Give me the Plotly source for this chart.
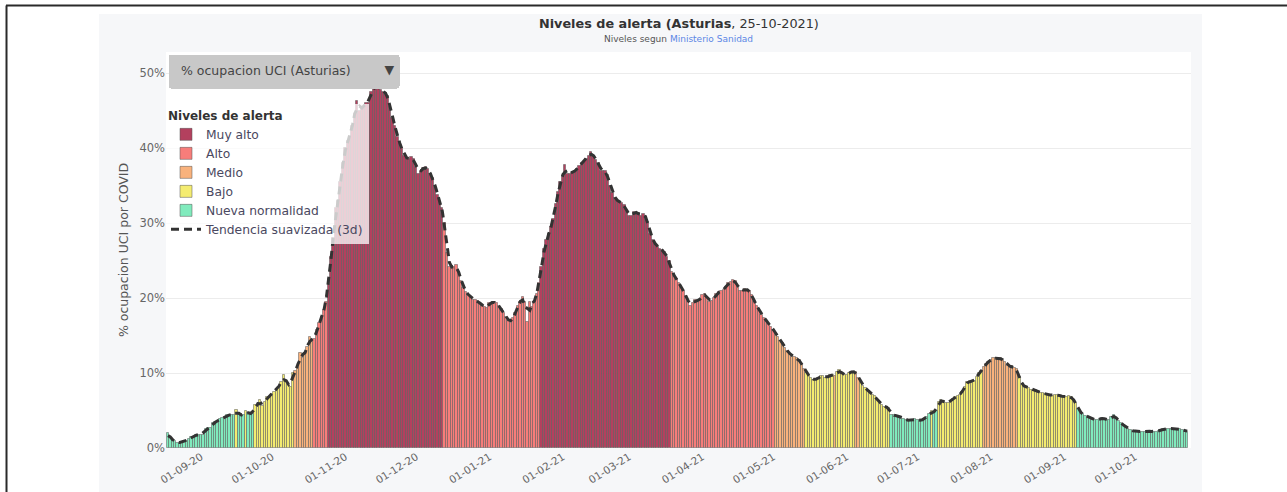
import pandas as pd
import plotly.graph_objects as go

# % ocupacion UCI por COVID, Asturias, valores diarios
ocup_ago20 = [2.0, 1.3, 1.1, 0.9, 0.7, 0.7, 0.8, 0.9, 1.0, 1.2, 1.5, 1.5, 1.8, 1.8]
ocup_sep20 = [1.8, 1.8, 2.6, 2.7, 2.7, 3.3, 3.5, 3.5, 3.9, 4.0, 4.0, 4.4, 4.4, 4.4, 4.4,
              5.1, 4.4, 4.4, 4.4, 4.9, 4.7, 4.5, 4.6, 5.7, 5.7, 6.4, 5.6, 6.2, 6.8, 6.8]
ocup_oct20 = [7.2, 7.5, 7.8, 8.2, 8.8, 9.7, 8.8, 8.4, 8.2, 10.0, 10.3, 10.7, 12.7, 12.0, 12.7,
              13.5, 14.8, 14.3, 14.5, 15.7, 16.7, 17.5, 18.4, 19.5, 22.5, 25.5, 28.0, 32.0, 33.0,
              35.5, 38.0]
ocup_nov20 = [40.0, 41.0, 41.5, 43.0, 44.5, 46.3, 45.0, 45.5, 45.5, 46.0, 46.0, 47.5, 48.0, 48.2,
              48.3, 47.8, 47.5, 47.4, 47.0, 45.5, 44.0, 43.0, 41.5, 40.5, 40.0, 39.0, 38.5, 38.5,
              38.8, 38.5]
ocup_dic20 = [37.5, 36.6, 37.0, 37.3, 37.5, 37.2, 36.5, 36.0, 35.0, 33.8, 32.8, 32.0, 30.0, 26.0,
              24.2, 24.0, 24.2, 24.4, 23.5, 22.3, 21.3, 20.8, 20.4, 20.2, 19.8, 19.7, 19.6, 19.3,
              19.0, 18.8, 18.7]
ocup_ene21 = [19.3, 19.4, 19.5, 19.3, 18.9, 18.5, 18.0, 17.5, 17.0, 16.7, 17.3, 18.0, 19.0, 19.5,
              20.2, 19.5, 16.8, 19.5, 18.8, 19.5, 20.6, 22.0, 24.2, 26.5, 27.7, 28.5, 29.5, 30.5,
              32.5, 34.2, 35.5]
ocup_feb21 = [36.2, 37.7, 36.6, 36.6, 36.7, 36.9, 37.2, 37.6, 38.0, 38.2, 38.6, 39.0, 39.5, 39.0,
              38.4, 38.0, 37.0, 36.9, 36.9, 36.4, 35.0, 34.0, 33.3, 33.0, 32.8, 32.7, 32.4, 31.5]
ocup_mar21 = [31.0, 31.0, 31.5, 31.4, 31.3, 31.0, 31.2, 31.0, 30.2, 28.5, 27.7, 27.3, 26.8, 26.5,
              26.4, 26.2, 25.5, 25.0, 23.5, 23.0, 22.6, 22.0, 21.5, 21.0, 20.3, 19.5, 19.0, 19.3,
              19.8, 19.5, 19.7]
ocup_abr21 = [20.4, 20.6, 20.2, 19.5, 19.6, 20.0, 20.6, 20.8, 20.9, 21.1, 21.5, 22.0, 22.2, 22.4,
              22.3, 21.5, 21.0, 21.0, 21.2, 21.1, 21.0, 20.4, 19.5, 18.9, 18.4, 17.8, 17.3, 17.1,
              16.6, 16.2]
ocup_may21 = [15.8, 15.3, 14.8, 14.3, 14.0, 13.3, 12.9, 12.6, 12.2, 12.2, 12.0, 11.7, 11.2, 10.6,
              10.0, 9.7, 9.3, 9.1, 9.1, 9.3, 9.6, 9.6, 9.3, 9.5, 9.7, 9.7, 9.6, 10.1, 10.4, 10.0, 9.7]
ocup_jun21 = [9.7, 10.0, 10.2, 10.2, 10.1, 9.4, 8.8, 8.3, 8.0, 7.6, 7.3, 7.1, 6.9, 6.4, 6.1, 5.7,
              5.5, 5.5, 5.3, 4.4, 4.4, 4.3, 4.2, 4.2, 3.9, 3.7, 3.7, 3.7, 3.8, 3.9]
ocup_jul21 = [3.7, 3.7, 3.7, 3.9, 4.2, 4.5, 4.9, 4.7, 5.0, 6.2, 6.4, 6.2, 6.0, 6.0, 6.3, 6.6, 6.8,
              7.0, 7.1, 7.5, 8.2, 8.8, 9.0, 8.7, 9.0, 9.5, 10.0, 10.3, 10.8, 11.2, 11.5]
ocup_ago21 = [11.8, 12.0, 12.0, 11.9, 12.0, 11.8, 11.5, 11.0, 10.8, 10.9, 10.7, 10.5, 9.5, 8.4,
              8.3, 8.1, 8.0, 7.8, 7.7, 7.7, 7.5, 7.4, 7.3, 7.2, 7.1, 7.1, 7.0, 7.1, 7.1, 7.0, 6.9]
ocup_sep21 = [6.8, 6.8, 6.9, 6.8, 6.4, 6.0, 5.2, 4.6, 4.5, 4.3, 4.2, 4.0, 3.8, 3.7, 3.8, 3.9, 4.0,
              3.9, 3.8, 3.7, 4.2, 4.4, 4.0, 3.6, 3.3, 3.1, 2.8, 2.6, 2.4, 2.3]
ocup_oct21 = [2.2, 2.2, 2.2, 2.2, 2.2, 2.3, 2.2, 2.2, 2.2, 2.2, 2.3, 2.4, 2.5, 2.6, 2.6, 2.6, 2.6,
              2.6, 2.6, 2.5, 2.4, 2.3, 2.2]

# Nivel de alerta: fecha desde la que aplica cada tramo
tramo_inicio = ["2020-08-18", "2020-09-16", "2020-09-17", "2020-09-20", "2020-09-21",
                "2020-09-24", "2020-10-11", "2020-10-19", "2020-10-25", "2020-12-13",
                "2021-01-23", "2021-03-19", "2021-05-02", "2021-05-15", "2021-05-27",
                "2021-05-28", "2021-06-05", "2021-06-07", "2021-06-20", "2021-07-07",
                "2021-07-08", "2021-07-10", "2021-07-29", "2021-08-13", "2021-09-07"]
tramo_nivel = ["Nueva normalidad", "Bajo", "Nueva normalidad", "Bajo", "Nueva normalidad",
               "Bajo", "Medio", "Alto", "Muy alto", "Alto",
               "Muy alto", "Alto", "Medio", "Bajo", "Medio",
               "Bajo", "Medio", "Bajo", "Nueva normalidad", "Bajo",
               "Nueva normalidad", "Bajo", "Medio", "Bajo", "Nueva normalidad"]

niveles = ["Muy alto", "Alto", "Medio", "Bajo", "Nueva normalidad"]
colores = {
    "Muy alto": "#b3405e",
    "Alto": "#f77d7a",
    "Medio": "#f9b27c",
    "Bajo": "#f4ec70",
    "Nueva normalidad": "#80ebbd",
}

valores = (ocup_ago20 + ocup_sep20 + ocup_oct20 + ocup_nov20 + ocup_dic20 + ocup_ene21
           + ocup_feb21 + ocup_mar21 + ocup_abr21 + ocup_may21 + ocup_jun21 + ocup_jul21
           + ocup_ago21 + ocup_sep21 + ocup_oct21)
fechas = pd.date_range("2020-08-18", periods=len(valores), freq="D")
df = pd.DataFrame({"fecha": fechas, "ocup": valores})

inicio = pd.to_datetime(tramo_inicio)
idx = inicio.searchsorted(df["fecha"], side="right") - 1
df["nivel"] = [tramo_nivel[i] for i in idx]
df["suave"] = df["ocup"].rolling(3, center=True, min_periods=1).mean()

fig = go.Figure()

for nivel in niveles:
    d = df[df["nivel"] == nivel]
    fig.add_trace(go.Bar(
        x=d["fecha"], y=d["ocup"], name=nivel,
        marker=dict(color=colores[nivel], line=dict(color="rgba(85,85,85,0.5)", width=1)),
        hovertemplate="%{x|%d-%m-%y}: %{y:.1f}%<extra>" + nivel + "</extra>",
    ))

fig.add_trace(go.Scatter(
    x=df["fecha"], y=df["suave"], mode="lines", name="Tendencia suavizada (3d)",
    line=dict(color="#333333", width=3, dash="8px,5px"),
    hovertemplate="%{y:.1f}%<extra></extra>",
))

# fondo gris del panel, area blanca del grafico y marco negro de la captura
fig.add_shape(type="rect", xref="paper", yref="paper", x0=-0.0654, x1=1.0107, y0=-0.12, y1=1.096,
              fillcolor="#f6f7f9", line_width=0, layer="below")
fig.add_shape(type="rect", xref="paper", yref="paper", x0=0, x1=1, y0=0, y1=1,
              fillcolor="white", line_width=0, layer="below")
fig.add_shape(type="line", xref="paper", yref="paper", x0=-0.1561, x1=1.1, y0=1.1174, y1=1.1174,
              line=dict(color="#2a2a2a", width=2))
fig.add_shape(type="line", xref="paper", yref="paper", x0=-0.1556, x1=-0.1556, y0=-0.12, y1=1.1174,
              line=dict(color="#2a2a2a", width=2))

fig.add_annotation(
    xref="paper", yref="paper", x=0.5, y=1.071, yanchor="middle", showarrow=False,
    text="<b>Niveles de alerta (Asturias</b>, 25-10-2021)",
    font=dict(size=12.8, color="#333333"),
)
fig.add_annotation(
    xref="paper", yref="paper", x=0.5, y=1.0328, yanchor="middle", showarrow=False,
    text="Niveles segun <span style='color:#5b86e5'>Ministerio Sanidad</span>",
    font=dict(size=9, color="#555555"),
)

fig.update_layout(
    width=1287, height=492,
    margin=dict(l=166, r=96, t=52, b=44, autoexpand=False),
    paper_bgcolor="white", plot_bgcolor="white",
    font=dict(family="DejaVu Sans, Noto Sans, sans-serif", color="#555555", size=12),
    barmode="overlay", bargap=0,
    showlegend=True,
    legend=dict(
        x=0.0, y=0.868, xanchor="left", yanchor="top",
        bgcolor="rgba(255,255,255,0.75)",
        title=dict(text="<b>Niveles de alerta</b>", font=dict(size=12, color="#333333")),
        font=dict(size=12.3, color="#4a4860"),
        tracegroupgap=0, itemwidth=30,
    ),
    xaxis=dict(
        type="date", automargin=False,
        range=["2020-08-17 04:00", "2021-10-24 14:00"],
        tick0="2020-09-01", dtick="M1", tickformat="%d-%m-%y",
        tickangle=-32, tickfont=dict(size=10.5, color="#666666"),
        showgrid=False, zeroline=False, ticks="",
    ),
    yaxis=dict(
        automargin=False,
        range=[0, 52.8], dtick=10, ticksuffix="%",
        tickfont=dict(size=11.5, color="#666666"),
        gridcolor="#ececec", zeroline=False,
        title=dict(text="% ocupacion UCI por COVID", font=dict(size=12.5, color="#555555"), standoff=8),
    ),
    updatemenus=[dict(
        type="dropdown", direction="down", showactive=True,
        x=0.002, y=0.995, xanchor="left", yanchor="top",
        pad=dict(t=0, r=0, b=0, l=0),
        bgcolor="#c8c8c8", bordercolor="#c8c8c8",
        font=dict(size=12.5, color="#444444"),
        buttons=[dict(label="% ocupacion UCI (Asturias)     ", method="skip", args=[None])],
    )],
)

# la pagina por defecto deja 8px de margen en el body: lo quitamos para que la figura ocupe la ventana
fig.write_html("out.html", config={"displayModeBar": False},
               post_script="document.body.style.margin='0px';")
